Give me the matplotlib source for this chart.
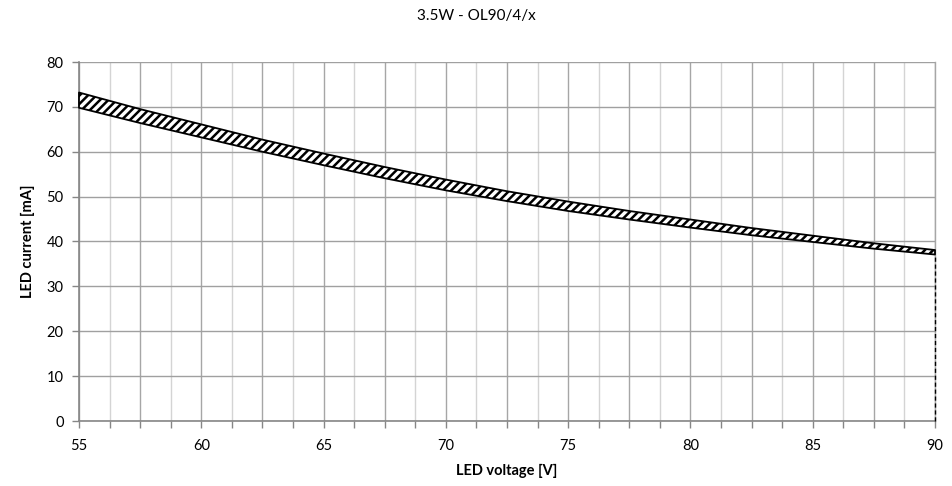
import matplotlib
matplotlib.use("Agg")
import matplotlib.pyplot as plt
from matplotlib.ticker import MultipleLocator, FuncFormatter

plt.rcParams['font.family'] = ['Lato', 'DejaVu Sans']
plt.rcParams['hatch.linewidth'] = 1.8

title = "3.5W - OL90/4/x"
xlabel = "LED voltage [V]"
ylabel = "LED current [mA]"

voltage = [55, 57.5, 60, 62.5, 65, 67.5, 70, 72.5, 75, 77.5, 80, 82.5, 85, 87.5, 90]
current_max = [73.2, 69.5, 66.1, 62.7, 59.6, 56.6, 53.8, 51.2, 48.9, 46.8, 44.9, 43.0, 41.3, 39.6, 38.1]
current_min = [69.8, 66.4, 63.2, 60.0, 57.0, 54.1, 51.4, 49.0, 46.8, 44.9, 43.1, 41.4, 39.9, 38.4, 37.1]

fig = plt.figure(figsize=(9.52, 4.86), dpi=100)
ax = fig.add_axes([79/952, 1 - 421/486, (935-79)/952, (421-62)/486])

ax.set_xlim(55, 90)
ax.set_ylim(0, 80)

ax.xaxis.set_major_locator(MultipleLocator(2.5))
ax.xaxis.set_minor_locator(MultipleLocator(1.25))
ax.xaxis.set_major_formatter(FuncFormatter(lambda v, p: f"{v:.0f}" if abs(v % 5) < 1e-6 else ""))
ax.yaxis.set_major_locator(MultipleLocator(10))

ax.grid(which='major', axis='x', color='#a6a6a6', lw=1.0)
ax.grid(which='minor', axis='x', color='#d4d4d4', lw=1.0)
ax.grid(which='major', axis='y', color='#a0a0a0', lw=1.0)
ax.axvline(voltage[-1], color='#a6a6a6', lw=1.0, clip_on=False, zorder=0.5)
ax.set_axisbelow(True)

for s in ['top', 'right']:
    ax.spines[s].set_visible(False)
for s in ['left', 'bottom']:
    ax.spines[s].set_color('#868686')
    ax.spines[s].set_linewidth(1.2)

ax.tick_params(which='both', axis='both', direction='out', length=5, color='#868686',
               width=1.0, labelsize=10.5, labelcolor='black')
ax.tick_params(axis='x', pad=8)
ax.tick_params(axis='y', pad=6)

ax.fill_between(voltage, current_min, current_max, facecolor='white', edgecolor='black',
                hatch='////', linewidth=1.3, zorder=3, clip_on=False)
ax.vlines(voltage[-1], 0, current_min[-1], colors='black', linestyles=(0, (3, 2)), lw=1.0,
          zorder=3, clip_on=False)

ax.set_xlabel(xlabel, fontsize=10.5, fontweight='bold', labelpad=8)
ax.set_ylabel(ylabel, fontsize=10.5, fontweight='bold', labelpad=8)
fig.text(0.5, 1 - 16/486, title, ha='center', va='center', fontsize=11)

fig.savefig("out.png", dpi=100)
